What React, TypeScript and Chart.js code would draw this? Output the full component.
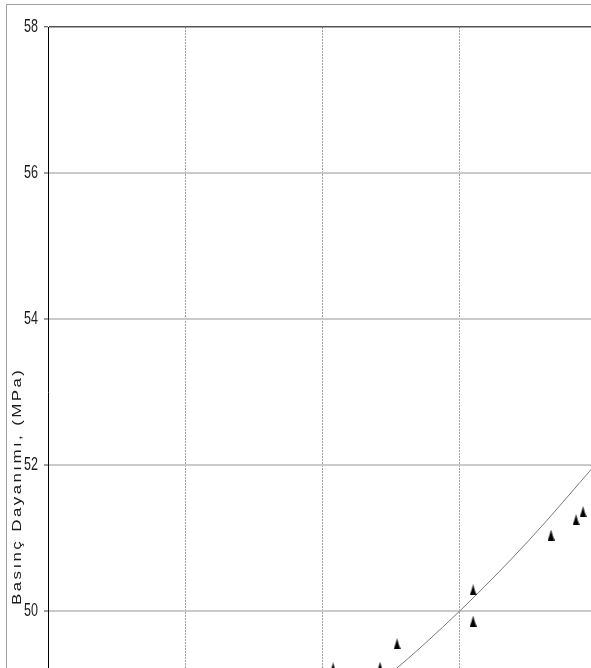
import React, { useEffect, useRef } from "react";
import { Chart, registerables } from "chart.js";

Chart.register(...registerables);

// Measured data points (x in arbitrary axis units, y in MPa)
const xValues = [20.77, 24.19, 25.43, 30.97, 30.97, 36.65, 38.47, 38.98];
const yValues = [49.22, 49.23, 49.55, 50.29, 49.86, 51.04, 51.25, 51.36];

// Trend line
const trendX = [20, 25, 30, 35, 40];
const trendY = [48.42, 49.15, 50.0, 50.96, 52.03];

const yTicks = [48, 50, 52, 54, 56, 58];
const yTitle = "Basınç Dayanımı, (MPa)";

function makeTriangle(): HTMLCanvasElement {
  const c = document.createElement("canvas");
  c.width = 7;
  c.height = 11;
  const ctx = c.getContext("2d")!;
  ctx.fillStyle = "#000";
  ctx.beginPath();
  ctx.moveTo(3.5, 0);
  ctx.quadraticCurveTo(5, 6, 7, 11);
  ctx.lineTo(0, 11);
  ctx.quadraticCurveTo(2, 6, 3.5, 0);
  ctx.closePath();
  ctx.fill();
  return c;
}

const textPlugin = {
  id: "customText",
  beforeDraw(chart: any) {
    const ctx = chart.ctx;
    ctx.save();
    ctx.fillStyle = "#fff";
    ctx.fillRect(0, 0, chart.width, chart.height);
    ctx.strokeStyle = "#a0a0a0";
    ctx.lineWidth = 1;
    ctx.strokeRect(6.5, 4.5, 2000, 2000);
    ctx.restore();
  },
  afterDraw(chart: any) {
    const ctx = chart.ctx;
    const ys = chart.scales.y;
    ctx.save();
    ctx.fillStyle = "#1a1a1a";
    ctx.font = '19px "Liberation Sans", Arial, sans-serif';
    ctx.textAlign = "right";
    ctx.textBaseline = "middle";
    for (const v of yTicks) {
      const py = ys.getPixelForValue(v);
      ctx.save();
      ctx.translate(38, py);
      ctx.scale(0.66, 1);
      ctx.fillText(String(v), 0, 0);
      ctx.restore();
    }
    const stretch = 1.3;
    ctx.font = '13px "Liberation Sans", Arial, sans-serif';
    ctx.textAlign = "left";
    ctx.textBaseline = "middle";
    const natural = ctx.measureText(yTitle).width;
    const n = Array.from(yTitle).length;
    const spacing = (235 / stretch - natural) / (n - 1);
    (ctx as any).letterSpacing = Math.max(0, spacing) + "px";
    ctx.translate(17.5, 605);
    ctx.rotate(-Math.PI / 2);
    ctx.scale(stretch, 1);
    ctx.fillText(yTitle, 0, 0);
    ctx.restore();
  },
};

export default function App() {
  const ref = useRef<HTMLCanvasElement | null>(null);

  useEffect(() => {
    if (!ref.current) return;
    const tri = makeTriangle();
    const chart = new Chart(ref.current, {
      type: "scatter",
      data: {
        datasets: [
          {
            label: "data",
            data: xValues.map((x, i) => ({ x, y: yValues[i] })),
            pointStyle: tri as any,
            pointRadius: 5,
            showLine: false,
            order: 1,
          },
          {
            label: "trend",
            data: trendX.map((x, i) => ({ x, y: trendY[i] })),
            showLine: true,
            pointRadius: 0,
            borderColor: "#7a7a7a",
            borderWidth: 1,
            cubicInterpolationMode: "monotone",
            order: 2,
          },
        ],
      },
      plugins: [textPlugin],
      options: {
        animation: false,
        responsive: false,
        devicePixelRatio: 1,
        layout: { padding: { top: 27, left: 0, right: 53, bottom: 43 } },
        plugins: {
          legend: { display: false },
          tooltip: { enabled: false },
        },
        scales: {
          x: {
            type: "linear",
            min: 0,
            max: 40,
            ticks: { display: false, stepSize: 10 },
            border: {
              display: false,
              dash: [2, 1],
            },
            grid: {
              drawTicks: false,
              lineWidth: 1,
              color: (c: any) =>
                c.tick && c.tick.value === 0 ? "rgba(0,0,0,0)" : "#a0a0a0",
            },
            afterFit: (s: any) => {
              s.height = 0;
            },
          },
          y: {
            type: "linear",
            min: 48,
            max: 58,
            ticks: { display: false, stepSize: 2 },
            border: { display: true, color: "#000", width: 1 },
            grid: {
              drawTicks: true,
              tickLength: 4,
              tickColor: "#444",
              tickWidth: 1,
              lineWidth: (c: any) => (c.tick && c.tick.value === 58 ? 1.5 : 2),
              color: (c: any) =>
                c.tick && c.tick.value === 58 ? "#555" : "#cacaca",
            },
            afterFit: (s: any) => {
              s.width = 48;
            },
          },
        },
      } as any,
    });
    return () => chart.destroy();
  }, []);

  return (
    <div
      style={{
        position: "fixed",
        left: 0,
        top: 0,
        width: 591,
        height: 668,
        overflow: "hidden",
        background: "#fff",
      }}
    >
      <canvas
        ref={ref}
        width={650}
        height={800}
        style={{ display: "block", width: 650, height: 800 }}
      />
    </div>
  );
}
